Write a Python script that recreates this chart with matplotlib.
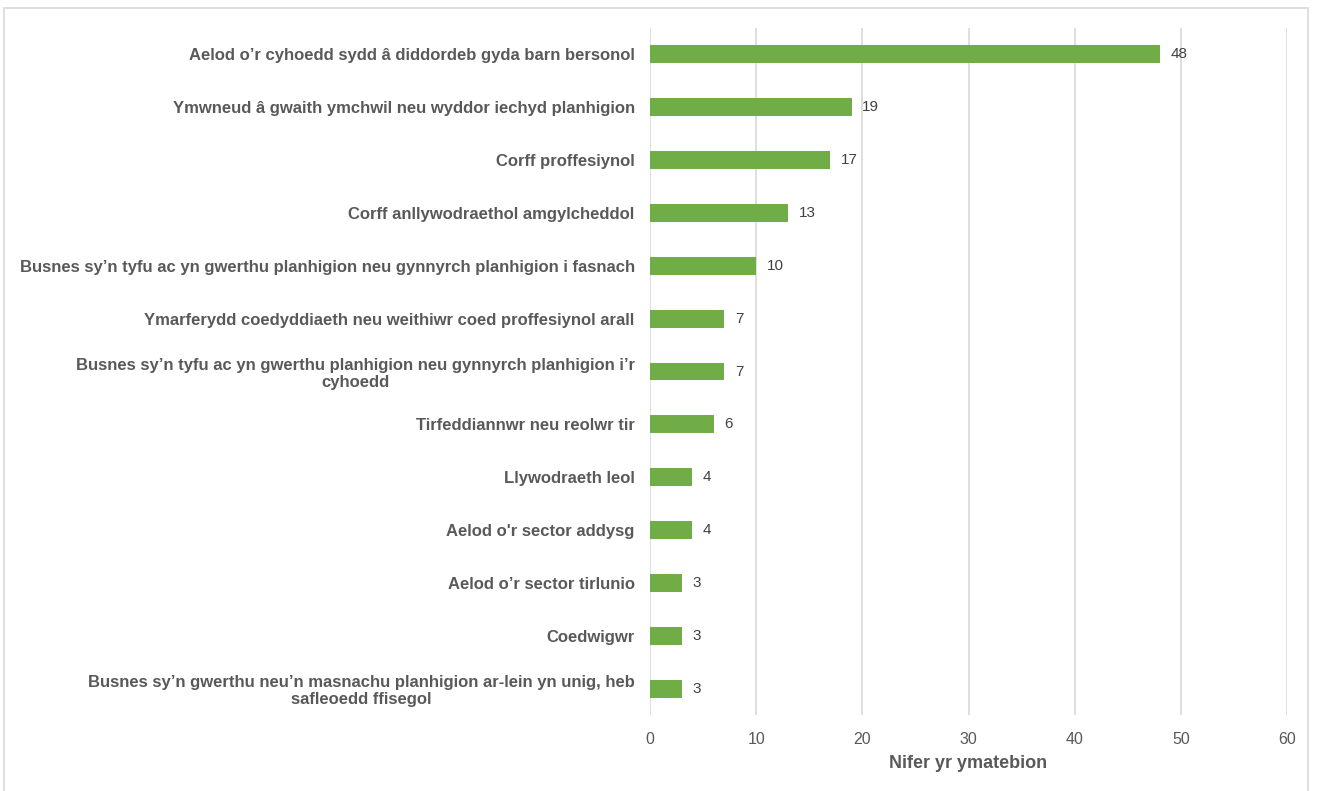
import matplotlib
matplotlib.use("Agg")
import matplotlib.pyplot as plt
from matplotlib.patches import Rectangle

# categories top to bottom
categories = [
    "Aelod o\u2019r cyhoedd sydd \u00e2 diddordeb gyda barn bersonol",
    "Ymwneud \u00e2 gwaith ymchwil neu wyddor iechyd planhigion",
    "Corff proffesiynol",
    "Corff anllywodraethol amgylcheddol",
    "Busnes sy\u2019n tyfu ac yn gwerthu planhigion neu gynnyrch planhigion i fasnach",
    "Ymarferydd coedyddiaeth neu weithiwr coed proffesiynol arall",
    "Busnes sy\u2019n tyfu ac yn gwerthu planhigion neu gynnyrch planhigion i\u2019r\ncyhoedd",
    "Tirfeddiannwr neu reolwr tir",
    "Llywodraeth leol",
    "Aelod o'r sector addysg",
    "Aelod o\u2019r sector tirlunio",
    "Coedwigwr",
    "Busnes sy\u2019n gwerthu neu\u2019n masnachu planhigion ar-lein yn unig, heb\nsafleoedd ffisegol",
]
counts = [48, 19, 17, 13, 10, 7, 7, 6, 4, 4, 3, 3, 3]
xticks = [0, 10, 20, 30, 40, 50, 60]

green = "#70AD47"
grid = "#D9D9D9"
label_col = "#595959"

plt.rcParams['font.family'] = ['Liberation Sans', 'DejaVu Sans']

fig = plt.figure(figsize=(13.19, 7.91), dpi=100)
fig.patches.append(Rectangle((4 / 1319, -0.01), 1304 / 1319, 1 - 8 / 791 + 0.01,
                             transform=fig.transFigure, fill=False,
                             edgecolor=grid, linewidth=1.2))

ax = fig.add_axes([650 / 1319, 76 / 791, 637 / 1319, 687 / 791])
ypos = list(range(len(categories)))
ax.barh(ypos, counts, height=0.34, color=green, zorder=3)
for y, v in zip(ypos, counts):
    ax.text(v + 1.0, y, str(v), va="center", ha="left", fontsize=11,
            color="#404040")

ax.set_xlim(0, 60)
ax.set_ylim(len(categories) - 0.5, -0.5)
ax.set_xticks(xticks)
ax.set_yticks(ypos)
ax.set_yticklabels(categories, fontsize=12, fontweight="bold", color=label_col,
                   linespacing=1.15)
for t in ax.get_yticklabels():
    t.set_multialignment("center")
ax.tick_params(axis="y", length=0, pad=11)
ax.tick_params(axis="x", length=0, pad=12, labelsize=11.5, labelcolor=label_col)
ax.grid(axis="x", color=grid, linewidth=1.2, zorder=0)
for s in ax.spines.values():
    s.set_visible(False)
ax.set_xlabel("Nifer yr ymatebion", fontsize=13, fontweight="bold",
              color=label_col, labelpad=6)

fig.savefig("out.png", dpi=100)
